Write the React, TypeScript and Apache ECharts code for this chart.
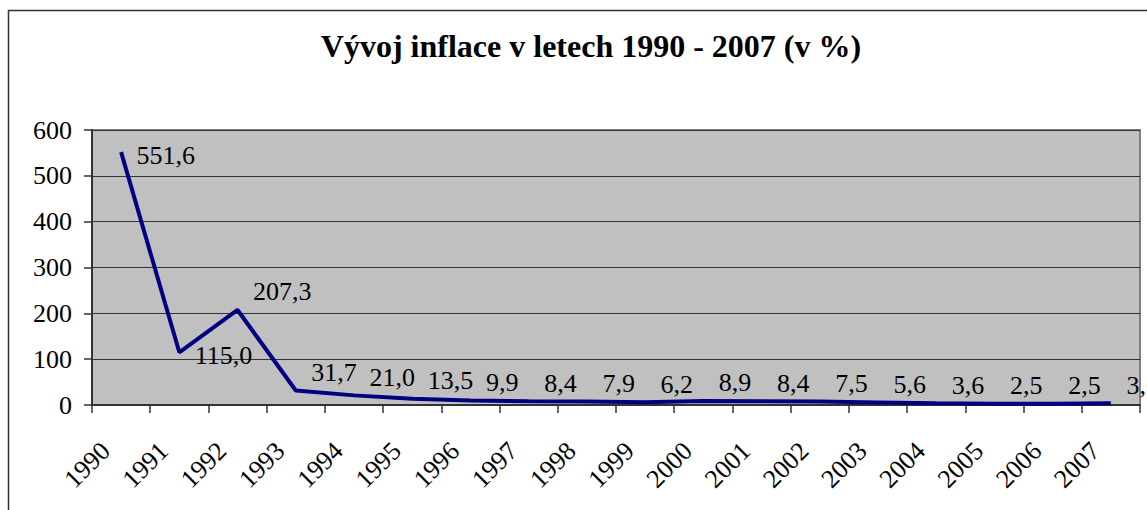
import React, { useEffect, useRef } from "react";
import * as echarts from "echarts";

const years = ["1990","1991","1992","1993","1994","1995","1996","1997","1998","1999","2000","2001","2002","2003","2004","2005","2006","2007"];
const inflation = [551.6, 115.0, 207.3, 31.7, 21.0, 13.5, 9.9, 8.4, 7.9, 6.2, 8.9, 8.4, 7.5, 5.6, 3.6, 2.5, 2.5, 3.6];
const titleText = "Vývoj inflace v letech 1990 - 2007 (v %)";

const FONT = "Liberation Serif";

export default function App() {
  const ref = useRef<HTMLDivElement>(null);
  useEffect(() => {
    document.body.style.margin = "0";
    const chart = echarts.init(ref.current!, null, { renderer: "svg" });
    chart.setOption({
      animation: false,
      backgroundColor: "#ffffff",
      title: {
        text: titleText,
        left: 586,
        textAlign: "center",
        top: 25,
        textStyle: { fontFamily: FONT, fontSize: 32, fontWeight: "bold", color: "#000" },
      },
      graphic: [
        {
          type: "rect",
          shape: { x: 8.5, y: 10.5, width: 1200, height: 600 },
          style: { fill: "none", stroke: "#333", lineWidth: 1.5 },
          z: 100,
        },
      ],
      grid: {
        left: 92,
        right: 7,
        top: 130,
        bottom: 105,
        show: true,
        backgroundColor: "#C0C0C0",
        borderColor: "#808080",
        borderWidth: 2,
      },
      xAxis: {
        type: "category",
        data: years,
        boundaryGap: true,
        axisLine: { show: true, lineStyle: { color: "#333", width: 2 } },
        axisTick: { show: true, interval: 0, length: 8, lineStyle: { color: "#333", width: 1.5 } },
        axisLabel: {
          interval: 0,
          rotate: 45,
          margin: 26,
          padding: [0, 22, 0, 0],
          fontFamily: FONT,
          fontSize: 26,
          color: "#000",
        },
        splitLine: { show: false },
      },
      yAxis: {
        type: "value",
        min: 0,
        max: 600,
        interval: 100,
        axisLine: { show: true, lineStyle: { color: "#333", width: 2 } },
        axisTick: { show: true, length: 8, lineStyle: { color: "#333", width: 1.5 } },
        axisLabel: { margin: 20, fontFamily: FONT, fontSize: 26, color: "#000" },
        splitLine: { show: true, lineStyle: { color: "#333", width: 1 } },
      },
      series: [
        {
          type: "line",
          data: inflation,
          showSymbol: true,
          symbol: "circle",
          symbolSize: 1,
          lineStyle: { color: "#000080", width: 4 },
          itemStyle: { color: "rgba(0,0,128,0)" },
          label: {
            show: true,
            position: "right",
            distance: 15,
            fontFamily: FONT,
            fontSize: 26,
            color: "#000",
            opacity: 1,
            formatter: (p: any) => Number(p.value).toFixed(1).replace(".", ","),
          },
          labelLayout: (p: any) => (p.dataIndex >= 2 ? { dy: -18 } : { dy: 3 }),
        },
      ],
    });
    return () => chart.dispose();
  }, []);
  return <div ref={ref} style={{ width: 1147, height: 510 }} />;
}
